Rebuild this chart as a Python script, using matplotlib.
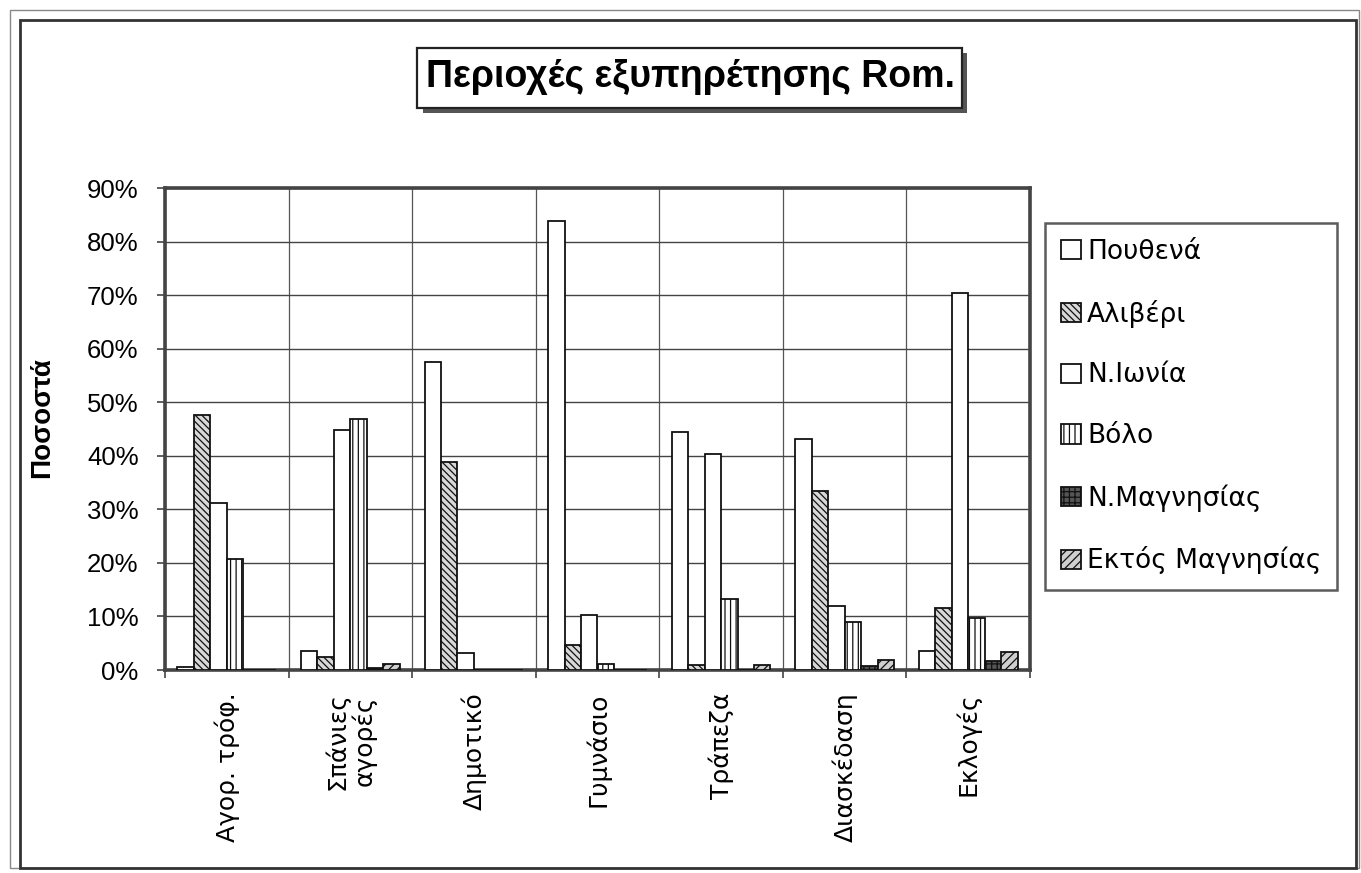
import matplotlib
matplotlib.use("Agg")
import matplotlib.pyplot as plt
import numpy as np
from matplotlib.patches import Rectangle
from matplotlib.ticker import FixedLocator, FuncFormatter

plt.rcParams['font.family'] = ['Liberation Sans', 'DejaVu Sans']
plt.rcParams['hatch.linewidth'] = 0.9

categories = ["Αγορ. τρόφ.", "Σπάνιες\nαγορές", "Δημοτικό", "Γυμνάσιο",
              "Τράπεζα", "Διασκέδαση", "Εκλογές"]
series_names = ["Πουθενά", "Αλιβέρι", "Ν.Ιωνία", "Βόλο", "Ν.Μαγνησίας", "Εκτός Μαγνησίας"]

pouthena   = [0.6, 3.6, 57.6, 83.8, 44.5, 43.2, 3.6]
aliveri    = [47.6, 2.4, 38.8, 4.6, 1.0, 33.5, 11.5]
n_ionia    = [31.1, 44.9, 3.1, 10.3, 40.4, 11.9, 70.4]
volo       = [20.7, 46.9, 0.0, 1.2, 13.3, 8.9, 9.7]
n_magnisia = [0.0, 0.3, 0.0, 0.0, 0.0, 0.8, 1.7]
ektos      = [0.0, 1.2, 0.0, 0.0, 1.0, 1.8, 3.4]

series = [pouthena, aliveri, n_ionia, volo, n_magnisia, ektos]
styles = [
    dict(facecolor='white', hatch=None),
    dict(facecolor='#d8d8d8', hatch='\\\\\\\\\\'),
    dict(facecolor='white', hatch=None),
    dict(facecolor='white', hatch='|||'),
    dict(facecolor='#555555', hatch='+++'),
    dict(facecolor='#cfcfcf', hatch='////'),
]

W, H = 1361, 873
fig = plt.figure(figsize=(W/100, H/100), dpi=100)

# outer frames
fig.add_artist(Rectangle((10/W, 1-868/H), (1359-10)/W, (868-10)/H, transform=fig.transFigure,
                         fill=False, edgecolor='#888888', linewidth=1.0))
fig.add_artist(Rectangle((20/W, 1-868/H), (1356-20)/W, (868-20)/H, transform=fig.transFigure,
                         fill=False, edgecolor='#333333', linewidth=2.0))

ax = fig.add_axes([165/W, 1-670/H, (1030-165)/W, (670-188)/H])
ax.set_zorder(2)

n = len(categories)
x = np.arange(n)
nb = len(series)
group = 0.8
bw = group / nb
for i, (vals, st, name) in enumerate(zip(series, styles, series_names)):
    offs = -group/2 + bw*(i+0.5)
    ax.bar(x + offs, vals, width=bw, facecolor=st['facecolor'], hatch=st['hatch'],
           edgecolor='#111111', linewidth=1.3, label=name, zorder=3)

ax.set_xlim(-0.5, n-0.5)
ax.set_ylim(0, 90)
ax.set_yticks(np.arange(0, 91, 10))
ax.yaxis.set_major_formatter(FuncFormatter(lambda v, p: f"{int(v)}%"))
ax.set_xticks(x)
ax.set_xticklabels(categories, rotation=90, fontsize=18, va='top', ha='center',
                   linespacing=1.05, family=['DejaVu Sans'])
ax.xaxis.set_minor_locator(FixedLocator(np.arange(-0.5, n, 1.0)))
ax.tick_params(axis='x', which='major', length=0, pad=16)
ax.tick_params(axis='x', which='minor', length=6, width=1.2, color='#444444', direction='out')
ax.tick_params(axis='y', length=6, width=1.2, color='#444444', labelsize=18.5, pad=13)
ax.grid(True, axis='y', which='major', color='#444444', linewidth=1.0, zorder=0)
ax.grid(True, axis='x', which='minor', color='#555555', linewidth=0.9, zorder=0)
ax.grid(False, axis='x', which='major')
ax.set_axisbelow(True)
for s in ax.spines.values():
    s.set_linewidth(2.6)
    s.set_color('#444444')

fig.text(42/W, 1-418/H, "Ποσοστά", rotation=90, fontsize=20, fontweight='bold',
         ha='center', va='center')

# title with shadow box
fig.add_artist(Rectangle((423/W, 1-113/H), (967-423)/W, (113-53)/H, transform=fig.transFigure,
                         facecolor='#555555', edgecolor='none'))
fig.add_artist(Rectangle((417/W, 1-108/H), (962-417)/W, (108-48)/H, transform=fig.transFigure,
                         facecolor='white', edgecolor='#222222', linewidth=1.6))
fig.text(690/W, 1-77/H, "Περιοχές εξυπηρέτησης Rom.", fontsize=27, fontweight='bold',
         ha='center', va='center')

leg = ax.legend(loc='upper left', bbox_to_anchor=(1045/W, 1-223/H), bbox_transform=fig.transFigure,
                prop={'family': 'DejaVu Sans', 'size': 19}, frameon=True, fancybox=False,
                edgecolor='#333333', borderaxespad=0, handlelength=0.75, handleheight=0.75,
                handletextpad=0.25, labelspacing=1.32, borderpad=0.6)
leg.get_frame().set_linewidth(1.8)

fig.savefig("out.png", dpi=100)
